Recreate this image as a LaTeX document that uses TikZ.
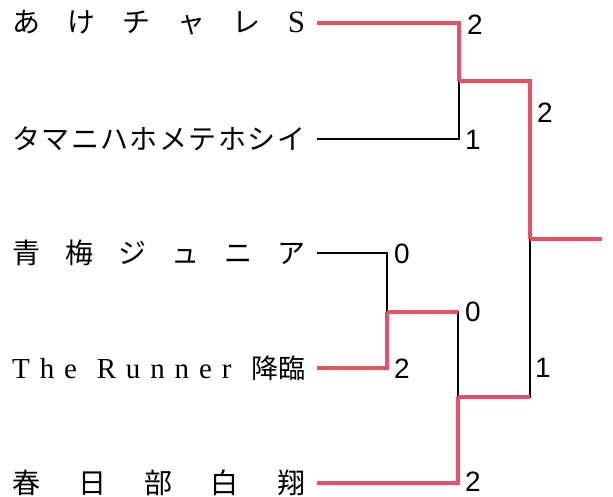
\documentclass[tikz,border=0pt]{standalone}
\usepackage{fontspec}
\setmainfont{Liberation Serif}
\newfontfamily\jpfont{Noto Sans CJK JP}
\newfontfamily\scorefont{Liberation Sans}
\usetikzlibrary{calc}
\definecolor{winred}{HTML}{EB4F66}
\begin{document}
\begin{tikzpicture}[x=1pt,y=-1pt,
  team/.style={anchor=west,inner sep=0pt,font=\fontsize{28}{30}\selectfont\jpfont},
  score/.style={inner sep=0pt,font=\fontsize{28}{30}\selectfont\scorefont},
  win/.style={draw=winred,line width=4.5pt,line join=miter},
  lose/.style={draw=black,line width=1.1pt}]
\useasboundingbox (0,0) rectangle (613,497);
% teams
\node[team] (n1) at (12,23) {\makebox[293pt][s]{あ\hfill{}け\hfill{}チ\hfill{}ャ\hfill{}レ\hfill{}{\rmfamily\fontsize{31}{30}\selectfont S}}};
\node[team] (n2) at (12,139) {\makebox[293pt][s]{タ\hfill{}マ\hfill{}ニ\hfill{}ハ\hfill{}ホ\hfill{}メ\hfill{}テ\hfill{}ホ\hfill{}シ\hfill{}イ}};
\node[team] (n3) at (12,253) {\makebox[293pt][s]{青\hfill{}梅\hfill{}ジ\hfill{}ュ\hfill{}ニ\hfill{}ア}};
\node[team] (n4) at (12,368) {\makebox[293pt][s]{{\rmfamily\fontsize{29}{30}\selectfont T\hfill{}h\hfill{}e\hfill\hfill{}R\hfill{}u\hfill{}n\hfill{}n\hfill{}e\hfill{}r}\hfill\hfill{}{\fontsize{27}{30}\selectfont 降臨}}};
\node[team] (n5) at (12,483) {\makebox[293pt][s]{春\hfill{}日\hfill{}部\hfill{}白\hfill{}翔}};
% match points
\coordinate (m1) at (459,81);
\coordinate (m2) at (387,312);
\coordinate (m3) at (458,397);
\coordinate (f) at (530,239);
\coordinate (out) at (602,239);
% losing lines
\draw[lose] (n2.east) ++(12,0) -| (m1);
\draw[lose] (n3.east) ++(12,0) -| (m2);
\draw[lose] (m2) -| (m3);
\draw[lose] (m3) -| (f);
% winning lines
\draw[win] (n1.east) ++(12,0) -| (m1);
\draw[win] (m1) -| (f);
\draw[win] (f) -- (out);
\draw[win] (n4.east) ++(12,0) -| (m2);
\draw[win] (m2) -- (m2 -| m3);
\draw[win] (n5.east) ++(12,0) -| (m3);
\draw[win] (m3) -- (m3 -| f);
% scores
\node[score] (s1) at (475,25) {2};
\node[score] (s2) at (473,140) {1};
\node[score] (s3) at (545,113) {2};
\node[score] (s4) at (402,254) {0};
\node[score] (s5) at (402,369) {2};
\node[score] (s6) at (473,312) {0};
\node[score] (s7) at (543,368) {1};
\node[score] (s8) at (473,482) {2};
\end{tikzpicture}
\end{document}
